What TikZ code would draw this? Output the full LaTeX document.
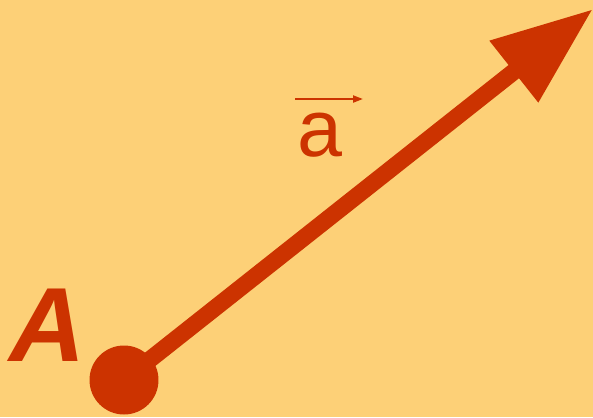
\documentclass[tikz,border=0pt]{standalone}
\usepackage{fontspec}
\setmainfont{Liberation Sans}
\usetikzlibrary{arrows.meta}
\definecolor{bgyellow}{HTML}{FDD077}
\definecolor{vecred}{HTML}{CC3300}

\begin{document}
\begin{tikzpicture}[x=0.02cm, y=-0.02cm,
  point/.style={circle, fill=vecred, minimum size=1.38cm, inner sep=0pt},
  vec/.style={line width=9.6pt, draw=vecred, -{Triangle[length=2.02cm, width=1.48cm, fill=vecred]}},
  overbar/.style={line width=1.2pt, draw=vecred, -{Triangle[length=0.2cm, width=0.14cm, fill=vecred]}},
  pointlabel/.style={inner sep=0pt, text=vecred, font=\fontsize{60}{60}\selectfont\bfseries\itshape},
  veclabel/.style={inner sep=0pt, text=vecred, font=\fontsize{46}{46}\selectfont}
]

\fill[bgyellow] (0,0) rectangle (593,417);
\useasboundingbox (0,0) rectangle (593,417);

\node[point] (dot) at (124,380) {};
\coordinate (tip) at (593,9);
\node[pointlabel, anchor=base] (Alabel) at (48,361) {A};
\node[veclabel, anchor=base] (alabel) at (320,156) {a};

\coordinate (bar-start) at (295,99);
\coordinate (bar-end) at (363,99);

\draw[vec] (dot.center) -- (tip);
\draw[overbar] (bar-start) -- (bar-end);

\end{tikzpicture}
\end{document}
